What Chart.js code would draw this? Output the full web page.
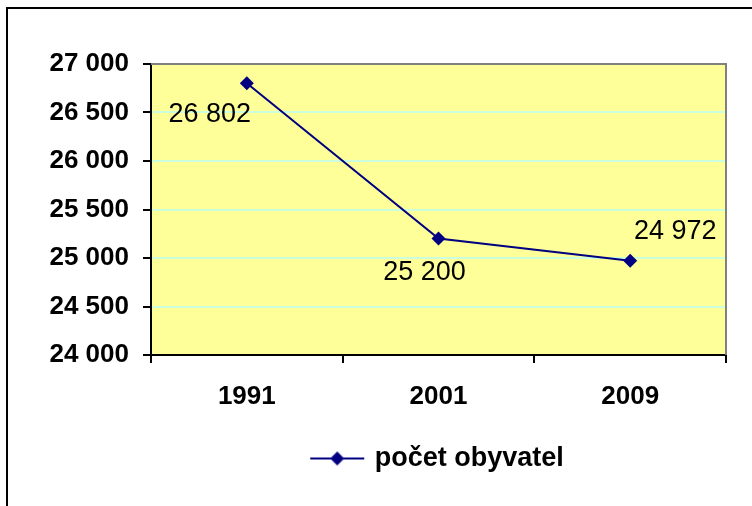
<!DOCTYPE html>
<html>
<head>
<meta charset="utf-8">
<script src="https://cdn.jsdelivr.net/npm/chart.js@4/dist/chart.umd.min.js"></script>
<style>
  html, body { margin: 0; padding: 0; background: #fff; }
  #wrap { width: 752px; height: 506px; position: relative; }
</style>
</head>
<body>
<div id="wrap"><canvas id="chart"></canvas></div>
<script>
// data
const years = ['1991', '2001', '2009'];
const population = [26802, 25200, 24972];
const seriesName = 'počet obyvatel';
const yMin = 24000;
const yMax = 27000;
const yStep = 500;

// label placement relative to the marker (px), same order as years
const labelShift = [[-37, 31], [-14, 34], [45, -29]];

const NAVY = '#000080';
const FONT = '"Liberation Sans", Arial, sans-serif';
const fmt = v => String(v).replace(/\B(?=(\d{3})+(?!\d))/g, ' ');

// legend symbol: short line with a diamond in the middle
function legendSymbol() {
    const c = document.createElement('canvas');
    c.width = 56; c.height = 16;
    const g = c.getContext('2d');
    g.strokeStyle = NAVY;
    g.lineWidth = 2;
    g.beginPath(); g.moveTo(1, 8); g.lineTo(55, 8); g.stroke();
    g.fillStyle = NAVY;
    g.beginPath(); g.moveTo(28, 1); g.lineTo(35, 8); g.lineTo(28, 15); g.lineTo(21, 8); g.closePath(); g.fill();
    return c;
}

// outer frame + plot background and grey border
const framePlugin = {
    id: 'frame',
    beforeDraw(chart) {
        const { ctx, chartArea: a } = chart;
        ctx.save();
        ctx.fillStyle = '#fff';
        ctx.fillRect(0, 0, chart.width, chart.height);
        ctx.fillStyle = '#000';
        ctx.fillRect(6, 7, chart.width - 6, 2);
        ctx.fillRect(6, 7, 2, chart.height - 7);
        ctx.fillStyle = '#ffff99';
        ctx.fillRect(a.left, a.top, a.right - a.left, a.bottom - a.top);
        ctx.restore();
    },
    beforeDatasetsDraw(chart) {
        const { ctx, chartArea: a } = chart;
        ctx.save();
        ctx.strokeStyle = '#808080';
        ctx.lineWidth = 2;
        ctx.beginPath();
        ctx.moveTo(a.left, a.top);
        ctx.lineTo(a.right, a.top);
        ctx.lineTo(a.right, a.bottom);
        ctx.stroke();
        ctx.restore();
    }
};

// value labels next to the markers
const valueLabels = {
    id: 'valueLabels',
    afterDatasetsDraw(chart) {
        const { ctx } = chart;
        const meta = chart.getDatasetMeta(0);
        ctx.save();
        ctx.font = '27px ' + FONT;
        ctx.fillStyle = '#000';
        ctx.textAlign = 'center';
        ctx.textBaseline = 'middle';
        meta.data.forEach((pt, i) => {
            const s = labelShift[i];
            ctx.fillText(fmt(population[i]), pt.x + s[0], pt.y + s[1]);
        });
        ctx.restore();
    }
};

const symbol = legendSymbol();
const tickFont = { family: FONT, size: 26, weight: 'bold' };
const legendFont = { family: FONT, size: 27, weight: 'bold' };

new Chart(document.getElementById('chart'), {
    type: 'line',
    data: {
        labels: years,
        datasets: [{
            label: seriesName,
            data: population,
            borderColor: NAVY,
            backgroundColor: NAVY,
            borderWidth: 2,
            tension: 0,
            pointStyle: 'rectRot',
            pointRadius: 7,
            pointHoverRadius: 7,
            pointBorderWidth: 0
        }]
    },
    options: {
        responsive: true,
        maintainAspectRatio: false,
        animation: false,
        layout: { padding: { left: 0, top: 64, right: 26, bottom: 24 } },
        scales: {
            x: {
                offset: true,
                grid: { offset: true, drawOnChartArea: false, color: '#000', tickColor: '#000', tickLength: 8, lineWidth: 2 },
                border: { color: '#000', width: 2 },
                ticks: { color: '#000', font: tickFont, padding: 18, maxRotation: 0 },
                afterFit: s => { s.height = 80; }
            },
            y: {
                min: yMin,
                max: yMax,
                grid: { color: '#ccffdd', lineWidth: 2, tickColor: '#000', tickLength: 8 },
                border: { color: '#000', width: 2 },
                ticks: { stepSize: yStep, color: '#000', font: tickFont, padding: 14, callback: v => fmt(v) },
                afterFit: s => { s.width = 151; }
            }
        },
        plugins: {
            legend: {
                position: 'bottom',
                fullSize: false,
                labels: {
                    color: '#000',
                    font: legendFont,
                    usePointStyle: true,
                    pointStyleWidth: 48,
                    generateLabels: chart => [{
                        text: seriesName,
                        fontColor: '#000',
                        pointStyle: symbol,
                        datasetIndex: 0,
                        lineWidth: 0,
                        hidden: false
                    }]
                }
            },
            tooltip: { enabled: false }
        }
    },
    plugins: [framePlugin, valueLabels]
});
</script>
</body>
</html>
